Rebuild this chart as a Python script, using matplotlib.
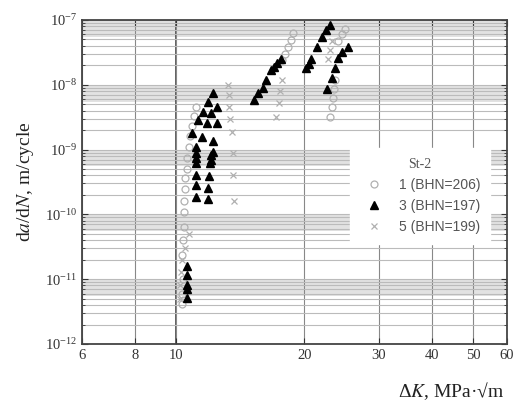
import numpy as np
import matplotlib
matplotlib.use('Agg')
import matplotlib.pyplot as plt
from matplotlib.ticker import FixedLocator, NullFormatter, LogLocator

plt.rcParams['font.family'] = ['Liberation Serif', 'DejaVu Serif']
plt.rcParams['mathtext.fontset'] = 'stix'

# specimen 3 (BHN=197), filled triangles
dk3 = [10.6, 10.6, 10.6, 10.6, 10.6,
       10.9, 11.25, 11.55, 11.9, 12.2,
       12.5, 12.1, 11.8, 12.5, 11.5, 12.2, 11.1, 12.2, 11.1, 12.1,
       11.1, 12.1, 11.1, 12.0, 11.1, 11.95, 11.1, 11.9, 11.1, 11.9,
       15.2, 15.55, 16.0, 16.3, 16.7, 17.0, 17.3, 17.6,
       20.2, 20.5, 20.8, 21.4, 22.0, 22.5, 23.0,
       22.6, 23.2, 23.6, 24.0, 24.6, 25.4]
da3 = [1.6e-11, 1.16e-11, 8.1e-12, 7.1e-12, 5.1e-12,
       1.8e-9, 2.9e-9, 3.8e-9, 5.4e-9, 7.5e-9,
       4.5e-9, 3.7e-9, 2.6e-9, 2.6e-9, 1.56e-9, 1.36e-9, 1.1e-9, 9.2e-10, 7.4e-10, 6.9e-10,
       8.9e-10, 8.3e-10, 6.2e-10, 6.2e-10, 4.0e-10, 3.9e-10, 2.8e-10, 2.6e-10, 1.86e-10, 1.73e-10,
       5.8e-9, 7.5e-9, 8.9e-9, 1.19e-8, 1.7e-8, 1.9e-8, 2.2e-8, 2.5e-8,
       1.8e-8, 2.1e-8, 2.5e-8, 3.8e-8, 5.5e-8, 7.0e-8, 8.5e-8,
       8.6e-9, 1.27e-8, 1.8e-8, 2.6e-8, 3.2e-8, 3.8e-8]

# specimen 1 (BHN=206), open circles
dk1 = [10.3, 10.3, 10.35, 10.3, 10.35, 10.4, 10.4, 10.45, 10.5, 10.5,
       10.6, 10.6, 10.7, 10.8, 10.9, 11.0, 11.1,
       17.7, 18.0, 18.3, 18.6, 18.8,
       23.0, 23.2, 23.4, 23.5, 23.6, 24.0, 24.5, 24.9]
da1 = [4.2e-12, 6e-12, 1e-11, 2.4e-11, 4e-11, 6.5e-11, 1.1e-10, 1.6e-10, 2.5e-10, 3.6e-10,
       5e-10, 7.5e-10, 1.1e-9, 1.6e-9, 2.3e-9, 3.3e-9, 4.6e-9,
       2.4e-8, 3.0e-8, 3.8e-8, 4.9e-8, 6.3e-8,
       3.2e-9, 4.5e-9, 6.2e-9, 8.5e-9, 1.2e-8, 4.8e-8, 6.0e-8, 7.2e-8]

# specimen 5 (BHN=199), crosses
dk5 = [10.2, 10.2, 10.25, 10.3, 10.5, 10.7,
       13.2, 13.3, 13.3, 13.4, 13.5, 13.6, 13.6, 13.7,
       17.2, 17.4, 17.5, 17.7,
       22.8, 23.0, 23.3]
da5 = [5e-12, 8e-12, 1.3e-11, 2e-11, 3e-11, 5e-11,
       1.0e-8, 7e-9, 4.6e-9, 3e-9, 1.9e-9, 9e-10, 4e-10, 1.6e-10,
       3.2e-9, 5.2e-9, 8e-9, 1.2e-8,
       2.5e-8, 3.5e-8, 4.8e-8]

xticks = [6, 8, 10, 20, 30, 40, 50, 60]
labels = ['1 (BHN=206)', '3 (BHN=197)', '5 (BHN=199)']

fig = plt.figure(figsize=(5.17, 4.12), dpi=100)
ax = fig.add_axes([0.1586, 0.165, 0.822, 0.7865])
ax.set_xscale('log')
ax.set_yscale('log')
ax.set_xlim(6, 60)
ax.set_ylim(1e-12, 1e-7)

# scanned-looking grey bands just under each decade
for e in range(-11, -6):
    ax.axhspan(0.55 * 10.0**e, 10.0**e, color='#e2e2e2', zorder=0, lw=0)

ax.xaxis.set_major_locator(FixedLocator(xticks))
ax.xaxis.set_minor_locator(FixedLocator([]))
ax.set_xticklabels([str(t) for t in xticks])
ax.xaxis.set_minor_formatter(NullFormatter())
ax.yaxis.set_major_locator(LogLocator(base=10, numticks=10))
ax.yaxis.set_minor_locator(LogLocator(base=10, subs=np.arange(2, 10), numticks=10))
ax.yaxis.set_minor_formatter(NullFormatter())

ax.grid(True, which='major', axis='x', color='#888888', lw=0.8, zorder=1)
ax.grid(True, which='both', axis='y', color='#bbbbbb', lw=0.8, zorder=1)
ax.axvline(10, color='#444444', lw=1.2, zorder=1)

ax.tick_params(which='both', direction='in', top=True, right=True, labelsize=10.5,
               colors='#333333')
ax.tick_params(which='major', length=4)
ax.tick_params(which='minor', length=2)
for s in ax.spines.values():
    s.set_color('#444444')
    s.set_linewidth(1.3)

ax.plot(dk1, da1, 'o', ms=5, mfc='none', mec='#b0b0b0', mew=0.9, ls='none',
        label=labels[0], zorder=3)
ax.plot(dk3, da3, '^', ms=5.5, color='black', ls='none', label=labels[1], zorder=4)
ax.plot(dk5, da5, 'x', ms=4, color='#b0b0b0', mew=0.9, ls='none', label=labels[2], zorder=3)

leg = ax.legend(title='St-2', loc='upper left', bbox_to_anchor=(0.615, 0.625),
                frameon=True, fancybox=False, edgecolor='white', facecolor='white',
                framealpha=1, prop={'family': 'Liberation Sans', 'size': 10},
                handletextpad=0.8, borderpad=0.7, labelspacing=0.5)
leg.get_title().set_fontfamily('Liberation Serif')
leg.get_title().set_fontsize(10)
leg.get_title().set_color('#555555')
for t in leg.get_texts():
    t.set_color('#555555')
leg.set_zorder(5)

ax.set_ylabel(r'd$a$/d$N$, m/cycle', fontsize=14, color='#222222', labelpad=6)
fig.text(0.975, 0.025, r'Δ$K$, MPa·√m', ha='right', va='bottom', fontsize=14,
         color='#222222')

fig.savefig('out.png', dpi=100)
